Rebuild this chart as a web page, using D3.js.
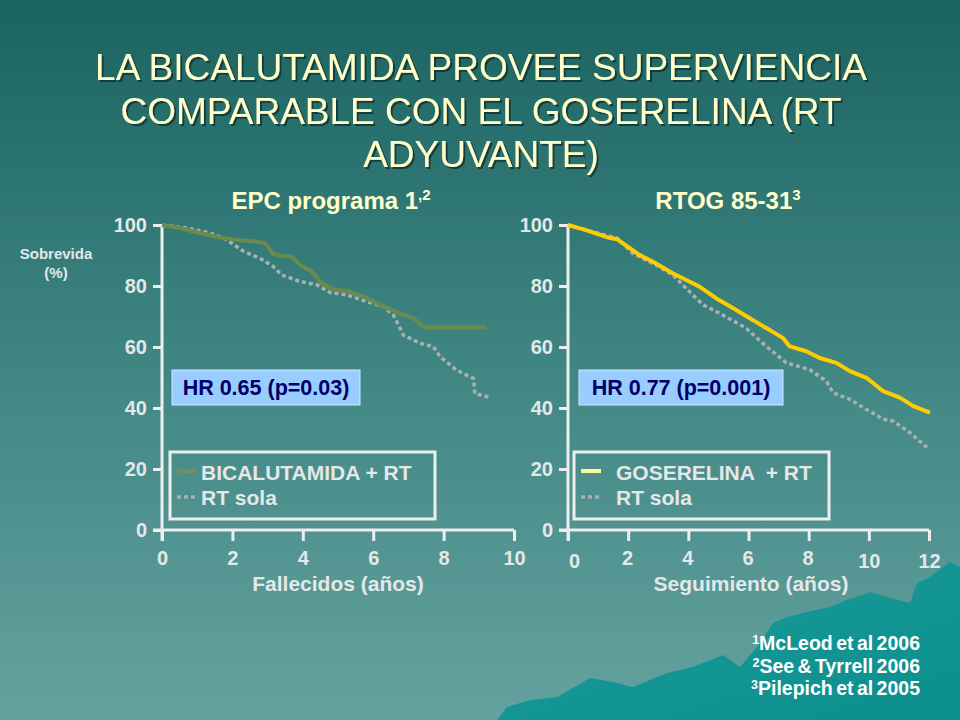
<!DOCTYPE html>
<html lang="es">
<head>
<meta charset="UTF-8">
<title>Bicalutamida vs Goserelina</title>
<script src="https://d3js.org/d3.v7.min.js"></script>
<style>
    body { margin: 0; background: #2f7572; }
    svg { display: block; font-family: Arial, "Liberation Sans", sans-serif; }
</style>
</head>
<body>
<svg width="960" height="720"></svg>
<script>
// --- data ---
const titleLines = ["LA BICALUTAMIDA PROVEE SUPERVIENCIA", "COMPARABLE CON EL GOSERELINA (RT", "ADYUVANTE)"];

const yTicks = [0, 20, 40, 60, 80, 100];

// EPC programa (left)
const epcTicks = [0, 2, 4, 6, 8, 10];
const bicalYears = [0, 0.5, 1.08, 1.6, 2.22, 2.64, 2.93, 3.16, 3.45, 3.68, 3.92, 4.25, 4.54, 4.87, 5.34, 5.82, 6.29, 6.76, 7.14, 7.47, 9.22];
const bicalSurv  = [100, 99, 97.4, 96, 95.0, 94.6, 94, 90.5, 89.8, 89.7, 86.9, 84.8, 80.9, 78.9, 78.2, 76, 73.3, 71, 69.4, 66.4, 66.4];
const epcRtYears = [0, 0.7, 1.36, 1.84, 2.31, 2.78, 3.16, 3.40, 3.92, 4.39, 4.77, 5.25, 5.82, 6.29, 6.57, 6.72, 6.86, 7.33, 7.71, 7.90, 8.37, 8.85, 8.89, 9.28];
const epcRtSurv  = [100, 99, 97.4, 95.2, 91.4, 89.1, 86.4, 83.6, 81.5, 80.4, 77.9, 77.1, 74.9, 73.3, 70.5, 67.2, 63.9, 61.2, 60.1, 56.8, 52.4, 49.7, 44.7, 43.6];

// RTOG 85-31 (right)
const rtogTicks = [0, 2, 4, 6, 8, 10, 12];
const gosYears = [0, 0.6, 1.37, 1.64, 2.37, 2.81, 3.48, 4.03, 4.37, 4.92, 5.48, 6.03, 6.59, 7.14, 7.37, 7.92, 8.37, 8.92, 9.37, 9.92, 10.48, 11.03, 11.48, 12.03];
const gosSurv  = [100, 98.3, 95.8, 95.3, 90.2, 88.0, 84.2, 81.5, 79.8, 76.0, 72.8, 69.5, 66.2, 63.0, 60.2, 58.6, 56.4, 54.8, 52.1, 49.9, 45.5, 43.4, 40.6, 38.5];
const rtogRtYears = [0, 0.81, 1.64, 2.14, 2.92, 3.48, 3.92, 4.48, 5.03, 5.92, 6.59, 7.26, 8.03, 8.59, 8.81, 9.37, 9.92, 10.48, 10.81, 11.37, 12.0];
const rtogRtSurv  = [100, 97.8, 95.7, 90.8, 86.9, 83.7, 79.3, 73.9, 71.1, 66.2, 60.2, 54.8, 52.6, 48.8, 45.0, 42.8, 39.5, 36.3, 35.7, 31.9, 26.5];

const refs = [["1", "McLeod et al 2006"], ["2", "See & Tyrrell 2006"], ["3", "Pilepich et al 2005"]];

// decorative mountain in the slide template (pixel outline)
const mountain = [[497,720],[507,707],[530,700],[557,697],[590,678],[613,682],[633,687],[667,673],[693,667],[723,655],[740,667],[757,647],[773,623],[787,617],[807,612],[830,607],[847,600],[870,592],[890,598],[910,603],[917,583],[930,577],[950,562],[960,567],[960,720]];

const svg = d3.select("svg");
const axisCol = "#eeeeee";
const textCol = "#e4e8e8";
const FONT = "Arial, 'Liberation Sans', sans-serif";

// background
const defs = svg.append("defs");
const bg = defs.append("linearGradient").attr("id", "bg").attr("x1", 0).attr("y1", 0).attr("x2", 0).attr("y2", 1);
bg.append("stop").attr("offset", "0%").attr("stop-color", "#1b6361");
bg.append("stop").attr("offset", "50%").attr("stop-color", "#3f8683");
bg.append("stop").attr("offset", "100%").attr("stop-color", "#64a29f");
svg.append("rect").attr("width", 960).attr("height", 720).attr("fill", "url(#bg)");

const mg = defs.append("linearGradient").attr("id", "mt").attr("x1", 0).attr("y1", 0).attr("x2", 1).attr("y2", 1);
mg.append("stop").attr("offset", "0%").attr("stop-color", "#1b9d9b");
mg.append("stop").attr("offset", "100%").attr("stop-color", "#0c8e8d");
svg.append("path").attr("d", d3.line()(mountain) + "Z").attr("fill", "url(#mt)");

const shadow = defs.append("filter").attr("id", "shadow").attr("x", "-5%").attr("y", "-20%").attr("width", "110%").attr("height", "140%");
shadow.append("feDropShadow").attr("dx", 2).attr("dy", 2).attr("stdDeviation", 0.6)
    .attr("flood-color", "#0b2f2e").attr("flood-opacity", 0.8);

// title
svg.append("g").attr("filter", "url(#shadow)")
    .selectAll("text").data(titleLines).join("text")
    .attr("x", 481).attr("y", function (d, i) { return 80 + i * 43.5; })
    .attr("text-anchor", "middle")
    .attr("font-size", 37)
    .attr("fill", "#ffffcc")
    .text(function (d) { return d; });

svg.append("text").attr("x", 56).attr("y", 259).attr("text-anchor", "middle")
    .attr("font-size", 15).attr("font-weight", "bold").attr("fill", textCol).text("Sobrevida");
svg.append("text").attr("x", 56).attr("y", 278).attr("text-anchor", "middle")
    .attr("font-size", 15).attr("font-weight", "bold").attr("fill", textCol).text("(%)");

function zip(xs, ys) { return xs.map(function (x, i) { return [x, ys[i]]; }); }

function panel(opt) {
    const x = d3.scaleLinear().domain([0, opt.xmax]).range([opt.x0, opt.x1]);
    const y = d3.scaleLinear().domain([0, 100]).range([530, 225]);
    const g = svg.append("g");

    // heading
    const h = g.append("text").attr("x", opt.headX).attr("y", 209).attr("text-anchor", "middle")
        .attr("font-size", 24).attr("font-weight", "bold").attr("fill", "#ffffcc");
    h.append("tspan").text(opt.head);
    h.append("tspan").attr("font-size", 15).attr("dy", -9).text(opt.sup);

    // y axis
    const ya = g.append("g").attr("transform", "translate(" + opt.x0 + ",0)")
        .call(d3.axisLeft(y).tickValues(yTicks).tickSize(9).tickPadding(6));
    // x axis
    const xa = g.append("g").attr("transform", "translate(0," + y(0) + ")")
        .call(d3.axisBottom(x).tickValues(opt.xticks).tickSize(11).tickPadding(10));
    [ya, xa].forEach(function (a) {
        a.select(".domain").attr("stroke", axisCol).attr("stroke-width", 3);
        a.selectAll(".tick line").attr("stroke", axisCol).attr("stroke-width", 3);
        a.selectAll(".tick text").attr("fill", textCol).attr("font-size", 20)
            .attr("font-weight", "bold").attr("font-family", FONT);
    });
    ya.select(".domain").attr("d", "M0," + y(100) + "V" + (y(0) + 11));
    xa.select(".domain").attr("d", "M" + (opt.x0 - 9) + ",0H" + opt.x1);
    xa.selectAll(".tick text").attr("dy", function (d) { return opt.nudge(d)[1] + 0.71 + "em"; })
        .attr("dx", function (d) { return opt.nudge(d)[0]; });

    g.append("text").attr("x", opt.xtitleX).attr("y", 591).attr("text-anchor", "middle")
        .attr("font-size", 21).attr("font-weight", "bold").attr("fill", textCol).text(opt.xtitle);

    // curves
    const line = d3.line().x(function (d) { return x(d[0]); }).y(function (d) { return y(d[1]); });
    g.append("path").datum(zip(opt.rtYears, opt.rtSurv)).attr("d", line)
        .attr("fill", "none").attr("stroke", "#a9b0b0").attr("stroke-width", 3.5)
        .attr("stroke-dasharray", "4 3");
    g.append("path").datum(zip(opt.trtYears, opt.trtSurv)).attr("d", line)
        .attr("fill", "none").attr("stroke", opt.trtCol).attr("stroke-width", 4)
        .attr("stroke-linejoin", "round");

    // HR box
    g.append("rect").attr("x", opt.hr[0]).attr("y", 370).attr("width", opt.hr[1]).attr("height", 35)
        .attr("fill", "#99ccff").attr("stroke", "#cfe9ff").attr("stroke-width", 1);
    g.append("text").attr("x", opt.hr[0] + opt.hr[1] / 2).attr("y", 395).attr("text-anchor", "middle")
        .attr("font-size", 21.5).attr("font-weight", "bold").attr("fill", "#000066").text(opt.hrText);

    // legend
    g.append("rect").attr("x", opt.leg[0]).attr("y", 452).attr("width", opt.leg[1]).attr("height", 67)
        .attr("fill", "none").attr("stroke", axisCol).attr("stroke-width", 3);
    g.append("line").attr("x1", opt.leg[0] + 7).attr("x2", opt.leg[0] + 27).attr("y1", 471).attr("y2", 471)
        .attr("stroke", opt.legCol).attr("stroke-width", 4);
    g.append("line").attr("x1", opt.leg[0] + 7).attr("x2", opt.leg[0] + 27).attr("y1", 497).attr("y2", 497)
        .attr("stroke", "#a9b0b0").attr("stroke-width", 3.5).attr("stroke-dasharray", "4 3");
    g.append("text").attr("x", opt.leg[0] + opt.legTx).attr("y", 480).attr("font-size", 21)
        .attr("font-weight", "bold").attr("fill", textCol).attr("xml:space", "preserve").text(opt.trtName);
    g.append("text").attr("x", opt.leg[0] + opt.legTx).attr("y", 505).attr("font-size", 21)
        .attr("font-weight", "bold").attr("fill", textCol).text("RT sola");
}

panel({
    x0: 162, x1: 514, xmax: 10, xticks: epcTicks,
    head: "EPC programa 1", sup: ",2", headX: 331,
    xtitle: "Fallecidos (años)", xtitleX: 338,
    nudge: function () { return [0, 0]; },
    trtYears: bicalYears, trtSurv: bicalSurv, trtCol: "#6c8a4e",
    rtYears: epcRtYears, rtSurv: epcRtSurv,
    hr: [172, 188], hrText: "HR 0.65 (p=0.03)",
    leg: [170, 265], legCol: "#7a8c5c", legTx: 31, trtName: "BICALUTAMIDA + RT"
});

panel({
    x0: 568, x1: 929, xmax: 12, xticks: rtogTicks,
    head: "RTOG 85-31", sup: "3", headX: 728,
    xtitle: "Seguimiento (años)", xtitleX: 751,
    nudge: function (d) { return d === 0 ? [6, 0.15] : (d >= 10 ? [0, 0.12] : [-1, 0]); },
    trtYears: gosYears, trtSurv: gosSurv, trtCol: "#ffcc00",
    rtYears: rtogRtYears, rtSurv: rtogRtSurv,
    hr: [579, 204], hrText: "HR 0.77 (p=0.001)",
    leg: [574, 255], legCol: "#ffff99", legTx: 42, trtName: "GOSERELINA  + RT"
});

// references
refs.forEach(function (r, i) {
    const t = svg.append("text").attr("x", 920).attr("y", 650 + i * 22.5).attr("text-anchor", "end")
        .attr("font-size", 19.5).attr("font-weight", "bold").attr("fill", "#ffffff")
        .attr("word-spacing", -2);
    t.append("tspan").attr("font-size", 12.5).attr("dy", -6).text(r[0]);
    t.append("tspan").attr("dy", 6).text(r[1]);
});
</script>
</body>
</html>
